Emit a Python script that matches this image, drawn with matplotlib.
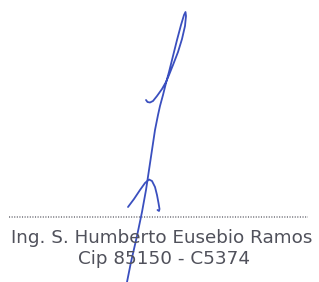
import numpy as np
import matplotlib
matplotlib.use('Agg')
import matplotlib.pyplot as plt

# Signature strokes, in picture pixel coordinates (x, y with y downwards)
main_x = [127, 131, 137, 142, 146, 149, 152, 155, 158, 160, 163, 166, 169, 173, 177, 181, 184, 185.5,
          186, 185, 182, 178, 173, 169, 166, 162, 157, 153, 150, 147.5, 146]
main_y = [282, 262, 236, 212, 190, 170, 150, 130, 115, 106, 95, 83, 72, 56, 40, 25, 15, 12,
          16, 26, 39, 52, 65, 75, 82, 89, 96, 101, 102.5, 102, 100]

arch_x = [128, 134, 140, 145, 149, 152, 155, 157, 158.5, 159.5, 159, 157.5]
arch_y = [207, 199, 190, 183, 179.5, 181, 187, 195, 203, 209, 211, 210]

# Dotted rule and caption
rule_x = [9, 308]
rule_y = [217, 217]
caption = ['Ing. S. Humberto Eusebio Ramos', 'Cip 85150 - C5374']
caption_x = [161.5, 164]
caption_y = [243, 264]

ink = '#3a4fbf'
grey = '#50515b'

fig = plt.figure(figsize=(3.19, 2.82), dpi=100)
ax = fig.add_axes([0, 0, 1, 1])
ax.set_xlim(0, 319)
ax.set_ylim(282, 0)
ax.axis('off')

ax.plot(rule_x, rule_y, color='#707078', lw=1.1, linestyle=(0, (0.7, 1.0)))

for txt, tx, ty in zip(caption, caption_x, caption_y):
    ax.text(tx, ty, txt, ha='center', va='baseline', fontsize=13.2,
            family='DejaVu Sans', color=grey)

ax.plot(main_x, main_y, color=ink, lw=1.3, solid_capstyle='round', solid_joinstyle='round')
ax.plot(arch_x, arch_y, color=ink, lw=1.3, solid_capstyle='round', solid_joinstyle='round')

fig.savefig('out.png', dpi=100, facecolor='white')
